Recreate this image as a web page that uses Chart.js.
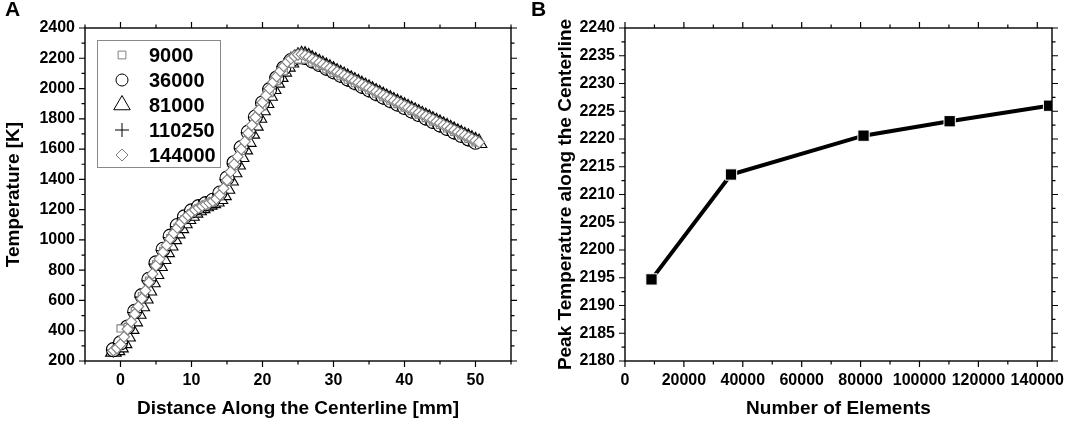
<!DOCTYPE html>
<html>
<head>
<meta charset="utf-8">
<script src="https://cdn.jsdelivr.net/npm/chart.js@4.4.1/dist/chart.umd.min.js"></script>
<style>
  body { margin: 0; background: #fff; }
  #wrap { position: relative; width: 1065px; height: 423px; overflow: hidden; }
  canvas { position: absolute; top: 0; }
  #chartA { left: 0; }
  #chartB { left: 552px; }
  .panel { position: absolute; top: -3px; font: bold 21px 'Liberation Sans', Arial, sans-serif; }
</style>
</head>
<body>
<div id="wrap">
  <canvas id="chartA" width="540" height="423"></canvas>
  <canvas id="chartB" width="513" height="423"></canvas>
  <div class="panel" style="left:5px">A</div>
  <div class="panel" style="left:531px">B</div>
</div>
<script>
// Panel A: temperature along the centerline for each mesh
const distFine = [
  -1, -0.5, 0, 0.5, 1, 1.5, 2, 2.5, 3, 3.5,
  4, 4.5, 5, 5.5, 6, 6.5, 7, 7.5, 8, 8.5,
  9, 9.5, 10, 10.5, 11, 11.5, 12, 12.5, 13, 13.5,
  14, 14.5, 15, 15.5, 16, 16.5, 17, 17.5, 18, 18.5,
  19, 19.5, 20, 20.5, 21, 21.5, 22, 22.5, 23, 23.5,
  24, 24.5, 25, 25.5, 26, 26.5, 27, 27.5, 28, 28.5,
  29, 29.5, 30, 30.5, 31, 31.5, 32, 32.5, 33, 33.5,
  34, 34.5, 35, 35.5, 36, 36.5, 37, 37.5, 38, 38.5,
  39, 39.5, 40, 40.5, 41, 41.5, 42, 42.5, 43, 43.5,
  44, 44.5, 45, 45.5, 46, 46.5, 47, 47.5, 48, 48.5,
  49, 49.5, 50, 50.5
];
const distCoarse = [
  -1, 0, 1, 2, 3, 4, 5, 6, 7, 8,
  9, 10, 11, 12, 13, 14, 15, 16, 17, 18,
  19, 20, 21, 22, 23, 24, 25, 26, 27, 28,
  29, 30, 31, 32, 33, 34, 35, 36, 37, 38,
  39, 40, 41, 42, 43, 44, 45, 46, 47, 48,
  49, 50
];
const dist9000 = [
  0, 1, 2, 3, 4, 5, 6, 7, 8, 9,
  10, 11, 12, 13, 14, 15, 16, 17, 18, 19,
  20, 21, 22, 23, 24, 25, 26, 27, 28, 29,
  30, 31, 32, 33, 34, 35, 36, 37, 38, 39,
  40, 41, 42, 43, 44, 45, 46, 47, 48, 49,
  50
];

const temp9000 = [
  415, 425, 530, 628, 732, 838, 928, 1012, 1082, 1138,
  1178, 1206, 1228, 1248, 1290, 1385, 1488, 1588, 1690, 1790,
  1882, 1970, 2048, 2114, 2164, 2191, 2192, 2172, 2150, 2127,
  2104, 2081, 2058, 2035, 2012, 1989, 1966, 1943, 1920, 1897,
  1874, 1851, 1828, 1805, 1782, 1759, 1736, 1713, 1690, 1667,
  1644
];
const temp36000 = [
  275, 320, 425, 528, 632, 740, 848, 938, 1025, 1095,
  1152, 1192, 1220, 1240, 1262, 1310, 1408, 1510, 1610, 1712,
  1812, 1905, 1993, 2070, 2136, 2185, 2210, 2206, 2183, 2159,
  2135, 2111, 2088, 2064, 2040, 2016, 1992, 1968, 1944, 1921,
  1898, 1875, 1852, 1829, 1806, 1783, 1760, 1737, 1714, 1691,
  1668, 1645
];
const temp81000 = [
  262, 272, 290, 318, 362, 412, 462, 512, 562, 613,
  666, 720, 775, 828, 874, 919, 963, 1005, 1043, 1078,
  1110, 1138, 1160, 1180, 1196, 1210, 1222, 1233, 1243, 1254,
  1270, 1296, 1338, 1392, 1447, 1498, 1548, 1598, 1648, 1702,
  1755, 1807, 1857, 1905, 1952, 1997, 2039, 2077, 2112, 2145,
  2172, 2194, 2209, 2220, 2217, 2206, 2191, 2179, 2167, 2155,
  2143, 2131, 2119, 2106, 2094, 2082, 2070, 2058, 2046, 2034,
  2022, 2010, 1998, 1986, 1974, 1962, 1950, 1938, 1927, 1915,
  1904, 1892, 1881, 1869, 1858, 1846, 1835, 1823, 1812, 1800,
  1789, 1777, 1766, 1754, 1743, 1731, 1720, 1708, 1697, 1685,
  1674, 1662, 1651, 1640
];
const temp110250 = [
  272, 315, 418, 520, 622, 730, 840, 930, 1016, 1088,
  1146, 1187, 1216, 1238, 1258, 1302, 1398, 1502, 1603, 1707,
  1810, 1906, 1998, 2078, 2146, 2196, 2221, 2216, 2193, 2169,
  2145, 2121, 2098, 2074, 2050, 2026, 2002, 1978, 1954, 1931,
  1908, 1885, 1862, 1839, 1816, 1793, 1770, 1747, 1724, 1701,
  1678, 1655
];
const temp144000 = [
  270, 285, 310, 360, 410, 460, 510, 560, 612, 665,
  720, 775, 830, 875, 920, 965, 1008, 1045, 1080, 1112,
  1140, 1162, 1182, 1198, 1212, 1224, 1235, 1245, 1256, 1272,
  1298, 1340, 1395, 1450, 1500, 1550, 1600, 1650, 1705, 1758,
  1810, 1860, 1908, 1955, 2000, 2042, 2080, 2115, 2148, 2176,
  2198, 2214, 2224, 2226, 2218, 2207, 2195, 2183, 2171, 2159,
  2147, 2135, 2123, 2111, 2099, 2087, 2075, 2063, 2051, 2039,
  2027, 2015, 2003, 1991, 1979, 1967, 1955, 1943, 1932, 1920,
  1909, 1897, 1886, 1874, 1863, 1851, 1840, 1828, 1817, 1805,
  1794, 1782, 1771, 1759, 1748, 1736, 1725, 1713, 1702, 1690,
  1679, 1667, 1656, 1645
];

// Panel B: peak temperature vs mesh size
const elements = [9000, 36000, 81000, 110250, 144000];
const peakTemp = [2194.7, 2213.6, 2220.6, 2223.2, 2226.0];
const elementTicks = [0, 10000, 20000, 30000, 40000, 50000, 60000, 70000,
  80000, 90000, 100000, 110000, 120000, 130000, 140000, 145000];

const FONT = "'Liberation Sans', Arial, sans-serif";
Chart.defaults.font.family = FONT;
Chart.defaults.font.weight = 'bold';
Chart.defaults.font.size = 16;
Chart.defaults.color = '#000';

function pts(xs, ys) {
  return xs.map((x, i) => ({ x: x, y: ys[i] }));
}

function onStep(v, step) {
  const r = v / step;
  return Math.abs(r - Math.round(r)) < 1e-6;
}

// box frame + major/minor ticks on all four sides
const frame = {
  id: 'frame',
  afterDraw(chart, args, opts) {
    const ctx = chart.ctx;
    const a = chart.chartArea;
    ctx.save();
    ctx.strokeStyle = '#000';
    ctx.lineWidth = 1.4;
    ctx.strokeRect(a.left, a.top, a.right - a.left, a.bottom - a.top);
    ctx.lineWidth = 1.2;
    ctx.beginPath();
    ['x', 'y'].forEach(id => {
      const s = chart.scales[id];
      s.ticks.forEach(t => {
        const v = t.value;
        if (!onStep(v, opts[id].minor)) return;
        const len = onStep(v, opts[id].major) ? 6 : 3.5;
        const p = s.getPixelForValue(v);
        if (id === 'x') {
          ctx.moveTo(p, a.bottom); ctx.lineTo(p, a.bottom + len);
          ctx.moveTo(p, a.top); ctx.lineTo(p, a.top - len);
        } else {
          ctx.moveTo(a.left, p); ctx.lineTo(a.left - len, p);
          ctx.moveTo(a.right, p); ctx.lineTo(a.right + len, p);
        }
      });
    });
    ctx.stroke();
    ctx.restore();
  }
};

// boxed legend in the upper left of panel A
const boxLegend = {
  id: 'boxLegend',
  afterDraw(chart) {
    const ctx = chart.ctx;
    const a = chart.chartArea;
    const x0 = a.left + 12, y0 = a.top + 12;
    ctx.save();
    ctx.strokeStyle = '#8a8a8a';
    ctx.lineWidth = 1;
    ctx.strokeRect(x0 + 0.5, y0 + 0.5, 123, 127);
    ctx.font = 'bold 20px ' + FONT;
    ctx.textBaseline = 'middle';
    chart.data.datasets.forEach((ds, i) => {
      const y = y0 + 15 + i * 25;
      ctx.strokeStyle = ds.borderColor;
      ctx.fillStyle = '#fff';
      ctx.lineWidth = 1;
      Chart.helpers.drawPoint(ctx, {
        pointStyle: ds.pointStyle, radius: ds.legendRadius, borderWidth: 1, rotation: 0
      }, x0 + 25, y);
      ctx.fillStyle = '#000';
      ctx.fillText(ds.label, x0 + 52, y + 1);
    });
    ctx.restore();
  }
};

function axis(min, max, step, major, title, fit, tickList) {
  const cfg = {
    type: 'linear', min: min, max: max,
    grid: { display: false, drawTicks: true, tickLength: 6 },
    border: { display: false },
    ticks: {
      stepSize: step, autoSkip: false, maxRotation: 0, padding: 4,
      callback: v => onStep(v, major) ? String(v) : ''
    },
    title: { display: true, text: title, font: { size: 19, weight: 'bold' }, padding: { top: 2, bottom: 3 } },
    afterFit: fit
  };
  if (tickList) {
    cfg.afterBuildTicks = s => { s.ticks = tickList.map(v => ({ value: v })); };
  }
  return cfg;
}

function markerSet(label, xs, ys, style, radius, color, order, legendRadius) {
  return {
    label: label,
    data: pts(xs, ys),
    pointStyle: style,
    pointRadius: radius,
    borderColor: color,
    backgroundColor: '#fff',
    borderWidth: 1.1,
    showLine: false,
    order: order,
    legendRadius: legendRadius
  };
}

new Chart(document.getElementById('chartA'), {
  type: 'scatter',
  data: {
    datasets: [
      markerSet(String(elements[0]), dist9000, temp9000, 'rect', 5, '#808080', 2, 5.5),
      markerSet(String(elements[1]), distCoarse, temp36000, 'circle', 7, '#000', 4, 6),
      markerSet(String(elements[2]), distFine, temp81000, 'triangle', 9, '#000', 5, 9.5),
      markerSet(String(elements[3]), distCoarse, temp110250, 'cross', 7.5, '#000', 3, 7),
      markerSet(String(elements[4]), distFine, temp144000, 'rectRot', 5.5, '#808080', 1, 6)
    ]
  },
  options: {
    responsive: false,
    animation: false,
    layout: { padding: { top: 28, right: 29, bottom: 0, left: 0 } },
    plugins: {
      legend: { display: false },
      tooltip: { enabled: false },
      frame: { x: { major: 10, minor: 5 }, y: { major: 200, minor: 100 } }
    },
    scales: {
      x: axis(-5, 55, 5, 10, 'Distance Along the Centerline [mm]', s => { s.height = 62; }),
      y: axis(200, 2400, 100, 200, 'Temperature [K]', s => { s.width = 85; })
    }
  },
  plugins: [frame, boxLegend]
});

new Chart(document.getElementById('chartB'), {
  type: 'scatter',
  data: {
    datasets: [{
      label: 'Peak temperature',
      data: pts(elements, peakTemp),
      showLine: true,
      borderColor: '#000',
      borderWidth: 4,
      pointStyle: 'rect',
      pointRadius: 8,
      pointBackgroundColor: '#000',
      pointBorderColor: '#fff',
      pointBorderWidth: 1
    }]
  },
  options: {
    responsive: false,
    animation: false,
    layout: { padding: { top: 28, right: 13, bottom: 0, left: 0 } },
    plugins: {
      legend: { display: false },
      tooltip: { enabled: false },
      frame: { x: { major: 20000, minor: 10000 }, y: { major: 5, minor: 2.5 } }
    },
    scales: {
      x: axis(0, 145000, 10000, 20000, 'Number of Elements', s => { s.height = 62; }, elementTicks),
      y: axis(2180, 2240, 2.5, 5, 'Peak Temperature along the Centerline', s => { s.width = 73; })
    }
  },
  plugins: [frame]
});
</script>
</body>
</html>
